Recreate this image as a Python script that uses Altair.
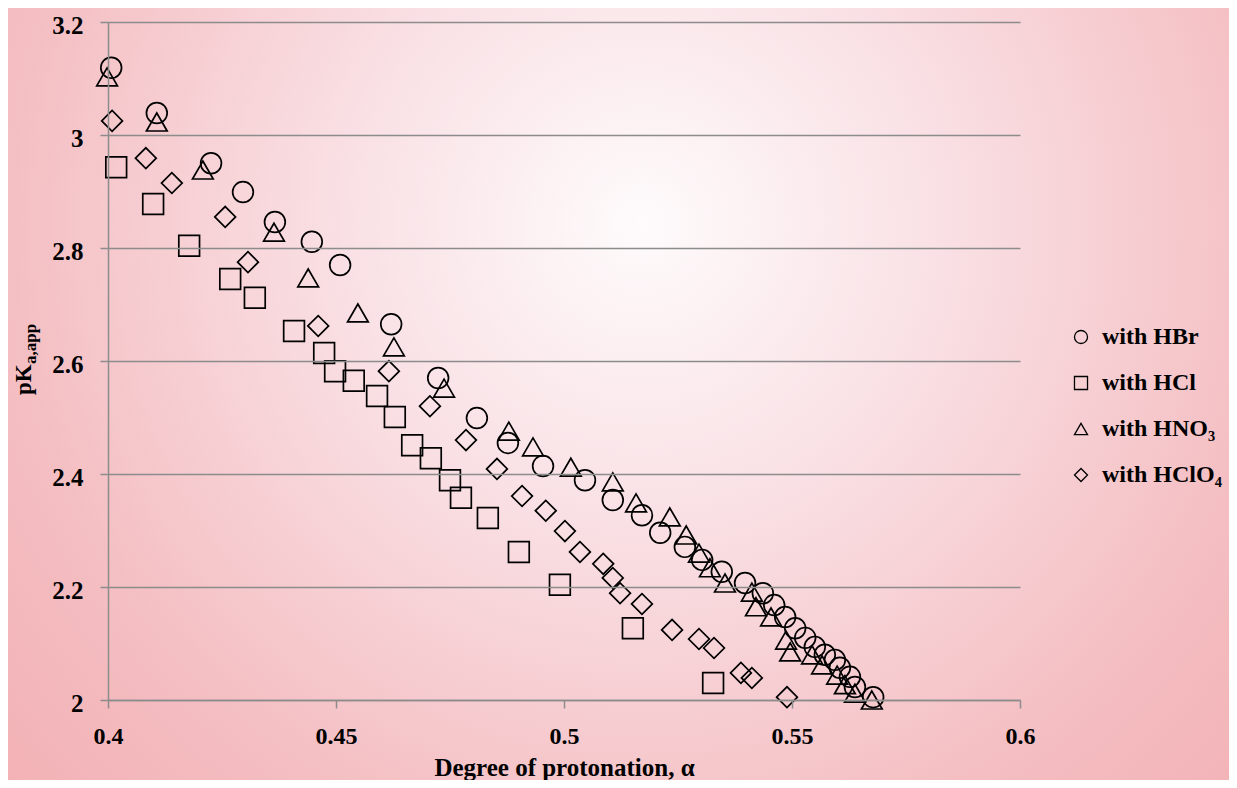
import altair as alt
import pandas as pd

# ---- data ----
hbr_x = [0.4007, 0.4107, 0.4226, 0.4296, 0.4366, 0.4447, 0.4509, 0.4621, 0.4724, 0.4809,
         0.4877, 0.4954, 0.5046, 0.5107, 0.5171, 0.5211, 0.5265, 0.5303, 0.5346, 0.5397,
         0.5436, 0.5461, 0.5485, 0.5507, 0.5529, 0.5550, 0.5572, 0.5594, 0.5605, 0.5627,
         0.5638, 0.5678]
hbr_y = [3.119, 3.039, 2.950, 2.899, 2.846, 2.811, 2.770, 2.665, 2.570, 2.499,
         2.455, 2.414, 2.389, 2.354, 2.327, 2.296, 2.271, 2.248, 2.227, 2.207,
         2.189, 2.168, 2.147, 2.127, 2.110, 2.094, 2.080, 2.071, 2.057, 2.041,
         2.023, 2.005]

hcl_x = [0.4018, 0.4099, 0.4178, 0.4268, 0.4322, 0.4408, 0.4474, 0.4498, 0.4539, 0.4590,
         0.4629, 0.4667, 0.4708, 0.4750, 0.4774, 0.4833, 0.4901, 0.4991, 0.5151, 0.5327]
hcl_y = [2.943, 2.878, 2.804, 2.745, 2.712, 2.653, 2.614, 2.582, 2.565, 2.538,
         2.501, 2.451, 2.428, 2.389, 2.358, 2.322, 2.262, 2.204, 2.127, 2.030]

hno3_x = [0.3998, 0.4107, 0.4208, 0.4364, 0.4439, 0.4548, 0.4627, 0.4737, 0.4879, 0.4932,
          0.5015, 0.5107, 0.5158, 0.5232, 0.5268, 0.5296, 0.5320, 0.5353, 0.5412, 0.5421,
          0.5454, 0.5487, 0.5496, 0.5544, 0.5566, 0.5599, 0.5616, 0.5638, 0.5675]
hno3_y = [3.103, 3.023, 2.938, 2.828, 2.747, 2.685, 2.625, 2.552, 2.476, 2.448,
          2.412, 2.386, 2.349, 2.324, 2.292, 2.260, 2.234, 2.207, 2.191, 2.165,
          2.147, 2.106, 2.085, 2.080, 2.062, 2.044, 2.027, 2.012, 2.000]

hclo4_x = [0.4009, 0.4083, 0.4140, 0.4257, 0.4307, 0.4461, 0.4616, 0.4706, 0.4785, 0.4853,
           0.4908, 0.4960, 0.5002, 0.5035, 0.5086, 0.5107, 0.5123, 0.5171, 0.5237, 0.5296,
           0.5329, 0.5388, 0.5412, 0.5489]
hclo4_y = [3.025, 2.959, 2.915, 2.855, 2.775, 2.662, 2.582, 2.520, 2.460, 2.409,
           2.361, 2.335, 2.299, 2.262, 2.241, 2.216, 2.189, 2.170, 2.124, 2.108,
           2.092, 2.048, 2.039, 2.005]

series_names = ["with HBr", "with HCl", "with HNO\u2083", "with HClO\u2084"]
series_shapes = ["circle", "square", "triangle-up", "diamond"]
x_ticks = [0.4, 0.45, 0.5, 0.55, 0.6]
y_ticks = [2.0, 2.2, 2.4, 2.6, 2.8, 3.0, 3.2]
x_title = "Degree of protonation, \u03b1"
y_title_main = ["pK"]
y_title_sub = ["a,app"]

rows = []
for name, xs, ys in zip(series_names, [hbr_x, hcl_x, hno3_x, hclo4_x],
                        [hbr_y, hcl_y, hno3_y, hclo4_y]):
    for a, b in zip(xs, ys):
        rows.append({"alpha": a, "pka": b, "acid": name})
df = pd.DataFrame(rows)

FONT = "Liberation Serif"
GRAY = "#8c8c8c"

gradient = {
    "gradient": "radial",
    "x1": 0.52, "y1": 0.36, "r1": 0,
    "x2": 0.52, "y2": 0.36, "r2": 0.85,
    "stops": [
        {"offset": 0.0, "color": "#fefbfc"},
        {"offset": 0.3, "color": "#f9dfe3"},
        {"offset": 0.62, "color": "#f4bec2"},
        {"offset": 1.0, "color": "#f1a6aa"},
    ],
}

bg = alt.Chart(pd.DataFrame({"k": [0]})).mark_rect(fill=gradient, strokeWidth=0).encode(
    x=alt.value(-100), x2=alt.value(1121), y=alt.value(-14), y2=alt.value(758)
)

pts = alt.Chart(df).mark_point(
    filled=False, stroke="black", strokeWidth=1.7, size=430, opacity=1
).encode(
    x=alt.X(
        "alpha:Q",
        scale=alt.Scale(domain=[0.4, 0.6], nice=False, zero=False),
        axis=alt.Axis(
            values=x_ticks, format=".2~f", grid=False, zindex=1,
            domainColor=GRAY, domainWidth=1.5, tickColor=GRAY, tickWidth=1.5, tickSize=8,
            labelFont=FONT, labelFontWeight="bold", labelFontSize=24, labelColor="black",
            labelPadding=16, labelFlush=False, labelOverlap=False,
            title=x_title, titleFont=FONT, titleFontWeight="bold", titleFontSize=25,
            titleColor="black", titleX=456, titleY=75, titleAlign="center",
            titleBaseline="alphabetic",
        ),
    ),
    y=alt.Y(
        "pka:Q",
        scale=alt.Scale(domain=[2.0, 3.2], nice=False, zero=False),
        axis=alt.Axis(
            values=y_ticks, format=".1~f", grid=True, gridColor=GRAY, gridWidth=1.5,
            zindex=1, domainColor=GRAY, domainWidth=1.5, tickColor=GRAY, tickWidth=1.5,
            tickSize=8, labelFont=FONT, labelFontWeight="bold", labelFontSize=25,
            labelColor="black", labelPadding=17, labelOffset=3, title=None,
        ),
    ),
    shape=alt.Shape(
        "acid:N",
        scale=alt.Scale(domain=series_names, range=series_shapes),
        legend=alt.Legend(
            title=None, orient="none", legendX=961, legendY=303, padding=0,
            labelFont=FONT, labelFontWeight="bold", labelFontSize=24, labelColor="black",
            labelLimit=400, labelOffset=9, symbolSize=170, symbolStrokeColor="black",
            symbolFillColor="transparent", symbolStrokeWidth=1.3, rowPadding=22,
        ),
    ),
)

t_main = alt.Chart(pd.DataFrame({"t": y_title_main})).mark_text(
    angle=270, align="left", baseline="alphabetic", font=FONT, fontWeight="bold",
    fontSize=23, color="black"
).encode(text="t:N", x=alt.value(-77), y=alt.value(373))

t_sub = alt.Chart(pd.DataFrame({"t": y_title_sub})).mark_text(
    angle=270, align="left", baseline="alphabetic", font=FONT, fontWeight="bold",
    fontSize=17, color="black"
).encode(text="t:N", x=alt.value(-72), y=alt.value(342))

chart = alt.layer(bg, pts, t_main, t_sub).properties(
    width=912, height=678,
    autosize=alt.AutoSizeParams(type="none"),
    padding={"left": 100, "top": 14, "right": 209, "bottom": 80},
).configure_view(stroke=None).configure(background="#f2b0b4")

chart.save("out.html", embed_options={"renderer": "svg", "actions": False})
